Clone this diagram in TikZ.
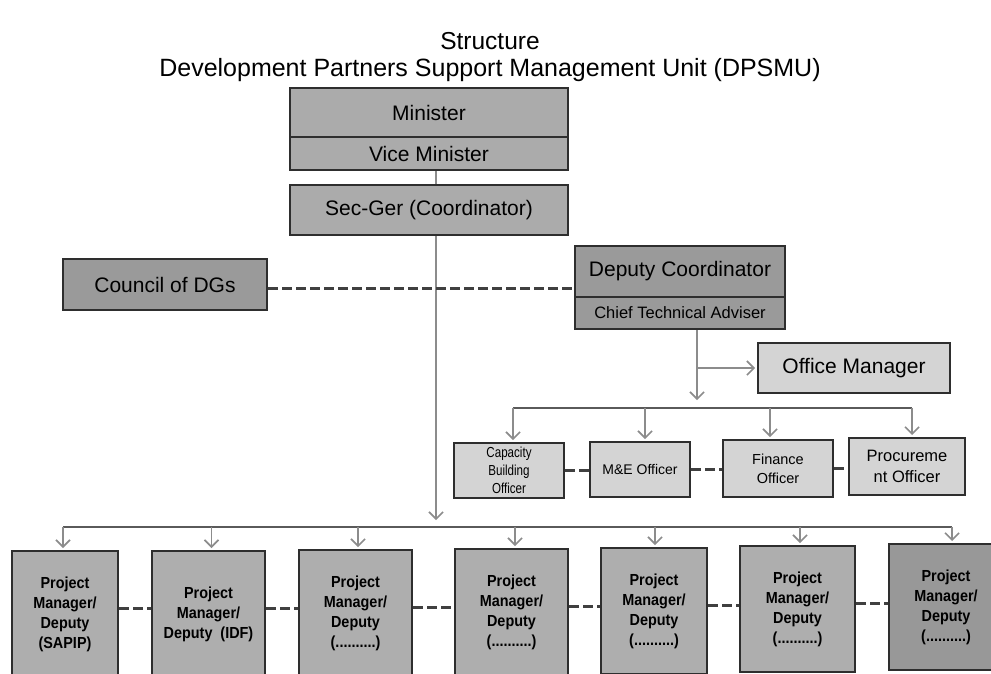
\documentclass[tikz,border=0pt]{standalone}
\usepackage{fontspec}
\setmainfont{Liberation Sans}
\newfontfamily\narrowfont[FakeStretch=0.8]{Liberation Sans}
\newfontfamily\projfont[FakeStretch=0.9]{Liberation Sans}
\usetikzlibrary{arrows.meta,calc}
\definecolor{boxline}{HTML}{2E2E2E}
\definecolor{topfill}{HTML}{ABABAB}
\definecolor{darkfill}{HTML}{9A9A9A}
\definecolor{lightfill}{HTML}{D4D4D4}
\definecolor{projfill}{HTML}{AEAEAE}
\definecolor{proj7fill}{HTML}{989898}
\definecolor{arrgray}{HTML}{8C8C8C}
\definecolor{busgray}{HTML}{5A5A5A}
\definecolor{dashgray}{HTML}{404040}
\begin{document}
\begin{tikzpicture}[x=1pt,y=-1pt,
  box/.style={draw=boxline, line width=2pt, fill=#1, inner sep=1pt, align=center, text=black},
  arr/.style={draw=arrgray, line width=1.6pt, -{Straight Barb[length=7pt,width=14pt,line width=1.6pt]}, shorten >=2pt},
  busline/.style={draw=busgray, line width=1.8pt},
  link/.style={draw=arrgray, line width=1.4pt},
  dashlink/.style={draw=dashgray, line width=3pt, dash pattern=on 10pt off 4pt},
  bigtext/.style={font=\fontsize{21}{24}\selectfont},
  projbox/.style={box=projfill, minimum width=#1, minimum height=126pt, font=\projfont\bfseries\fontsize{16}{20}\selectfont}
]
\useasboundingbox (0,0) rectangle (991,673);
\clip (0,0) rectangle (991,673);

% title
\node[font=\fontsize{24.5}{28}\selectfont] (t1) at (490,41) {Structure};
\node[font=\fontsize{25}{28}\selectfont] (t2) at (490,70) {Development Partners Support Management Unit (DPSMU)};

% top boxes
\node[box=topfill, bigtext, minimum width=278pt, minimum height=49pt] (min) at (429,112.5) {Minister};
\node[box=topfill, bigtext, minimum width=278pt, minimum height=33pt] (vice) at (429,153.5) {Vice Minister};
\node[box=topfill, bigtext, minimum width=278pt, minimum height=50pt] (sec) at (429,210) {Sec-Ger (Coordinator)};

\node[box=darkfill, bigtext, minimum width=204pt, minimum height=51pt] (council) at (165,284.5) {Council of DGs};
\node[box=darkfill, bigtext, minimum width=210pt, minimum height=51pt] (dep) at (680,271.5) {Deputy Coordinator};
\node[box=darkfill, font=\fontsize{16.5}{18}\selectfont, minimum width=210pt, minimum height=32pt] (cta) at (680,313) {Chief Technical Adviser};

\node[box=lightfill, bigtext, minimum width=192pt, minimum height=50pt] (om) at (854,368) {Office Manager};

% officers
\node[box=lightfill, font=\narrowfont\fontsize{14.5}{18}\selectfont, minimum width=110pt, minimum height=55pt] (cb) at (509,470.5) {Capacity\\Building\\Officer};
\node[box=lightfill, font=\fontsize{14}{17}\selectfont, minimum width=100pt, minimum height=55pt] (me) at (640,469.5) {M\&E Officer};
\node[box=lightfill, font=\fontsize{14.5}{19}\selectfont, minimum width=110pt, minimum height=57pt] (fin) at (778,468.5) {Finance\\Officer};
\node[box=lightfill, font=\fontsize{16.5}{21}\selectfont, minimum width=116pt, minimum height=57pt] (proc) at (907,466.5) {Procureme\\nt Officer};

% project boxes
\node[projbox=106pt] (p1) at (65,614) {Project\\Manager/\\Deputy\\(SAPIP)};
\node[projbox=113pt] (p2) at (208.5,614) {Project\\Manager/\\Deputy\enspace(IDF)};
\node[projbox=113pt] (p3) at (355.5,613) {Project\\Manager/\\Deputy\\(..........)};
\node[projbox=113pt] (p4) at (511.5,612) {Project\\Manager/\\Deputy\\(..........)};
\node[projbox=106pt] (p5) at (654,611) {Project\\Manager/\\Deputy\\(..........)};
\node[projbox=115pt] (p6) at (797.5,609) {Project\\Manager/\\Deputy\\(..........)};
\node[box=proj7fill, minimum width=126pt, minimum height=126pt, font=\projfont\bfseries\fontsize{16}{20}\selectfont] (p7) at (952,607) {\hspace*{-12pt}Project\\\hspace*{-12pt}Manager/\\\hspace*{-12pt}Deputy\\\hspace*{-12pt}(..........)};

% bus coordinates
\coordinate (obus) at (0,408);
\coordinate (pbus) at (0,527);

% vertical links
\draw[link] ([xshift=7pt]vice.south) -- ([xshift=7pt]sec.north);
\draw[arr, shorten >=7pt] ([xshift=7pt]sec.south) -- ([xshift=7pt]sec.south |- pbus);

% dashed council - deputy
\draw[dashlink] (council.east |- 0,288) -- (dep.west |- 0,288);

% deputy down to officers, branch to office manager
\draw[arr, shorten >=8pt] ([xshift=17pt]cta.south) -- ([xshift=17pt]cta.south |- obus);
\draw[arr] ([xshift=17pt]cta.south |- om.west) -- (om.west);

% officer bus
\draw[busline] ([xshift=4pt]cb.north |- obus) -- ([xshift=5pt]proc.north |- obus);
\draw[arr] ([xshift=4pt]cb.north |- obus) -- ([xshift=4pt]cb.north);
\draw[arr] ([xshift=5pt]me.north |- obus) -- ([xshift=5pt]me.north);
\draw[arr] ([xshift=-8pt]fin.north |- obus) -- ([xshift=-8pt]fin.north);
\draw[arr] ([xshift=5pt]proc.north |- obus) -- ([xshift=5pt]proc.north);

% officer dashes
\draw[dashlink] (cb.east) -- (me.west |- cb.east);
\draw[dashlink] (me.east) -- (fin.west |- me.east);
\draw[dashlink] (fin.east) -- (proc.west |- fin.east);

% project bus
\draw[busline] ([xshift=-2pt]p1.north |- pbus) -- (p7.north |- pbus);
\foreach \p/\s in {p1/-2pt,p2/3pt,p3/2.5pt,p4/3.5pt,p5/1pt,p6/2.5pt,p7/0pt}{
  \draw[arr] ([xshift=\s]\p.north |- pbus) -- ([xshift=\s]\p.north);
}

% project dashes
\draw[dashlink] (p1.east |- 0,608) -- (p2.west |- 0,608);
\draw[dashlink] (p2.east |- 0,608) -- (p3.west |- 0,608);
\draw[dashlink] (p3.east |- 0,607) -- (p4.west |- 0,607);
\draw[dashlink] (p4.east |- 0,606) -- (p5.west |- 0,606);
\draw[dashlink] (p5.east |- 0,605) -- (p6.west |- 0,605);
\draw[dashlink] (p6.east |- 0,603) -- (p7.west |- 0,603);
\end{tikzpicture}
\end{document}
